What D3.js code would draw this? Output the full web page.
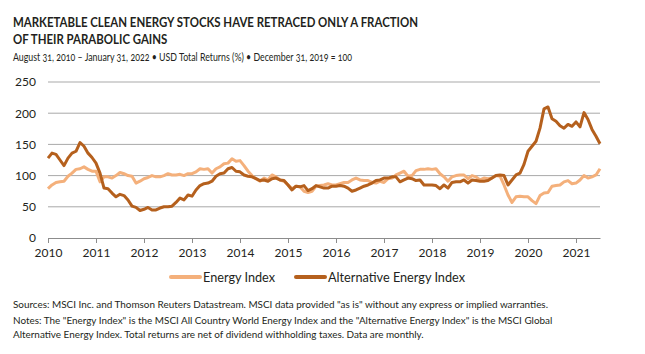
<!DOCTYPE html>
<html>
<head>
<meta charset="utf-8">
<script src="https://cdn.jsdelivr.net/npm/d3@7"></script>
<style>
  html, body { margin: 0; padding: 0; background: #fff; }
  svg { display: block; }
  text { font-family: Lato, "Open Sans", sans-serif; fill: #231f20; }
</style>
</head>
<body>
<svg id="chart" width="645" height="354"></svg>
<script>
// ---- Data (monthly, index: Dec 31 2019 = 100) ----
const yearLabels = ["2010","2011","2012","2013","2014","2015","2016","2017","2018","2019","2020","2021"];
const yTicks = [0, 50, 100, 150, 200, 250];

const energyIndex = [
  79,85,89,90,91,99,104,110,111,114,110,107,
  107,90,98,98,96,100,105,103,100,99,88,91,
  95,97,100,98,98,100,103,101,101,102,100,103,
  103,106,111,110,111,104,111,114,119,120,127,123,
  124,116,107,100,95,91,96,93,101,98,93,91,
  85,79,83,82,75,73,75,83,84,85,87,85,
  85,87,89,89,93,96,93,92,92,89,88,91,
  89,95,96,101,104,107,99,100,108,110,110,111,
  110,111,103,98,91,98,100,101,101,95,100,98,
  93,96,95,96,100,99,85,69,57,66,67,66,
  66,60,55,68,72,73,83,84,85,90,92,87,
  88,93,100,96,98,101,111
];

const alternativeEnergyIndex = [
  128,136,134,125,116,128,136,139,153,147,136,129,
  120,104,80,79,72,66,70,68,61,51,49,44,
  46,49,45,45,48,50,50,51,57,64,61,69,
  67,77,84,87,88,91,99,103,104,111,113,107,
  106,101,99,98,95,92,93,91,95,96,93,92,
  85,77,83,82,84,76,79,84,82,80,80,83,
  83,84,83,80,75,77,80,83,85,88,92,93,
  96,96,98,98,90,93,96,95,92,93,85,85,
  85,84,79,85,80,89,90,90,93,88,93,92,
  91,91,92,96,100,101,100,85,93,101,104,118,
  139,147,155,176,207,210,191,187,180,176,182,179,
  186,178,201,190,174,163,151
];

const seriesNames = ["Energy Index", "Alternative Energy Index"];
const seriesColors = ["#f4b07b", "#b5601d"];

// ---- Layout ----
const svg = d3.select("#chart");
const plotLeft = 48, plotRight = 600, plotTop = 82, plotBottom = 238;

const x = d3.scaleLinear().domain([0, energyIndex.length - 1]).range([plotLeft, plotRight]);
const y = d3.scaleLinear().domain([0, 250]).range([plotBottom, plotTop]);

function fit(sel, w) {
  sel.attr("textLength", w).attr("lengthAdjust", "spacingAndGlyphs");
}

// Titles
const title1 = svg.append("text").attr("x", 13).attr("y", 27)
  .style("font-size", "14px").style("font-weight", "bold")
  .text("MARKETABLE CLEAN ENERGY STOCKS HAVE RETRACED ONLY A FRACTION");
const title2 = svg.append("text").attr("x", 13).attr("y", 44)
  .style("font-size", "14px").style("font-weight", "bold")
  .text("OF THEIR PARABOLIC GAINS");
const sub = svg.append("text").attr("x", 13).attr("y", 61)
  .style("font-size", "10.5px").style("font-variant-numeric", "oldstyle-nums")
  .text("August 31, 2010 \u2013 January 31, 2022 \u2022 USD Total Returns (%) \u2022 December 31, 2019 = 100");

const t1w = title1.node().getComputedTextLength();
const k1 = 405 / t1w;
fit(title1, 405);
fit(title2, title2.node().getComputedTextLength() * k1);
fit(sub, 339);

// Gridlines
svg.append("g").selectAll("line").data(yTicks.filter(d => d > 0)).join("line")
  .attr("x1", plotLeft).attr("x2", plotRight)
  .attr("y1", d => y(d)).attr("y2", d => y(d))
  .attr("stroke", "#a9a9a9").attr("stroke-width", 1);

// Y axis labels
const yAxis = d3.axisLeft(y).tickValues(yTicks).tickSize(0).tickPadding(12);
const gy = svg.append("g").attr("transform", `translate(${plotLeft},0)`).call(yAxis);
gy.select(".domain").remove();
gy.selectAll("text").style("font-size", "12px").style("font-family", "Lato, sans-serif").attr("fill", "#231f20");

// X axis
const xTickVals = yearLabels.map((d, i) => i * 12);
const xAxis = d3.axisBottom(x).tickValues(xTickVals).tickSize(5).tickPadding(5)
  .tickFormat((d, i) => yearLabels[i]).tickSizeOuter(0);
const gx = svg.append("g").attr("transform", `translate(0,${plotBottom})`).call(xAxis);
gx.select(".domain").attr("stroke", "#8c8c8c").attr("stroke-width", 1.2);
gx.selectAll(".tick line").attr("stroke", "#8c8c8c");
gx.selectAll("text").style("font-size", "12px").style("font-family", "Lato, sans-serif").attr("fill", "#231f20");

// Lines
const line = d3.line().x((d, i) => x(i)).y(d => y(d));
[energyIndex, alternativeEnergyIndex].forEach((s, i) => {
  svg.append("path").datum(s).attr("d", line)
    .attr("fill", "none").attr("stroke", seriesColors[i])
    .attr("stroke-width", 3).attr("stroke-linejoin", "round");
});

// Legend
const legendX = [170, 295];
const legendTextW = [72, 137];
const lg = svg.append("g").attr("transform", "translate(0,277)");
seriesNames.forEach((name, i) => {
  const g = lg.append("g").attr("transform", `translate(${legendX[i]},0)`);
  g.append("line").attr("x1", 1).attr("x2", 30).attr("y1", 0).attr("y2", 0)
    .attr("stroke", seriesColors[i]).attr("stroke-width", 4).attr("stroke-linecap", "round");
  const t = g.append("text").attr("x", 33).attr("y", 4.5).style("font-size", "13px").text(name);
  fit(t, legendTextW[i]);
});

// Footnotes
const f1 = svg.append("text").attr("x", 13).attr("y", 308).style("font-size", "10px")
  .text("Sources: MSCI Inc. and Thomson Reuters Datastream. MSCI data provided \"as is\" without any express or implied warranties.");
const f2 = svg.append("text").attr("x", 13).attr("y", 324).style("font-size", "10px")
  .text("Notes: The \"Energy Index\" is the MSCI All Country World Energy Index and the \"Alternative Energy Index\" is the MSCI Global");
const f3 = svg.append("text").attr("x", 13).attr("y", 338).style("font-size", "10px")
  .text("Alternative Energy Index. Total returns are net of dividend withholding taxes. Data are monthly.");
const kf = 535 / f1.node().getComputedTextLength();
fit(f1, 535);
fit(f2, f2.node().getComputedTextLength() * kf);
fit(f3, f3.node().getComputedTextLength() * kf);
</script>
</body>
</html>
